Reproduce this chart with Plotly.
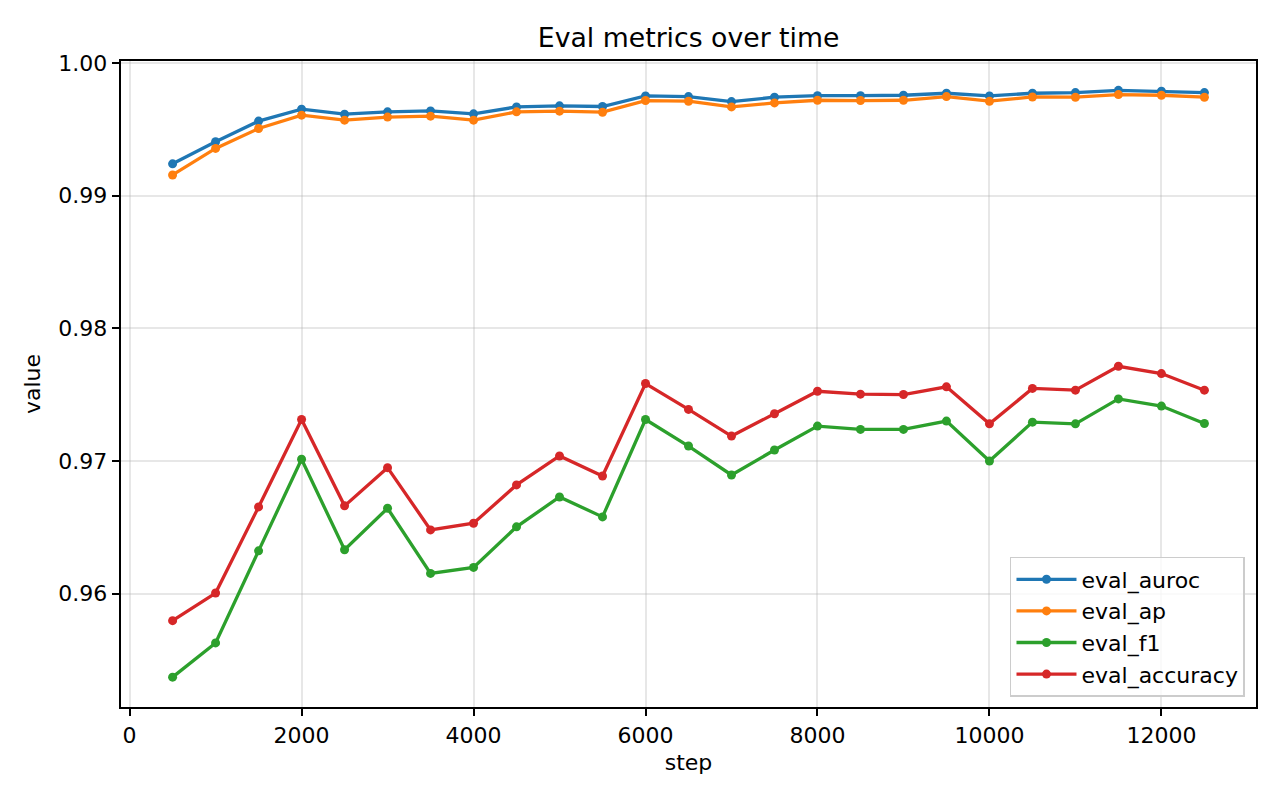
import plotly.graph_objects as go

# eval steps and metrics
steps = [500, 1000, 1500, 2000, 2500, 3000, 3500, 4000, 4500, 5000, 5500, 6000,
         6500, 7000, 7500, 8000, 8500, 9000, 9500, 10000, 10500, 11000, 11500, 12000, 12500]

eval_auroc = [0.99240, 0.99406, 0.99562, 0.99652, 0.99614, 0.99632, 0.99639, 0.99617,
              0.99669, 0.99677, 0.99672, 0.99752, 0.99747, 0.99709, 0.99742, 0.99754,
              0.99754, 0.99757, 0.99772, 0.99752, 0.99772, 0.99777, 0.99794, 0.99787, 0.99777]

eval_ap = [0.99156, 0.99356, 0.99506, 0.99607, 0.99569, 0.99592, 0.99599, 0.99569,
           0.99632, 0.99637, 0.99629, 0.99717, 0.99712, 0.99669, 0.99699, 0.99719,
           0.99717, 0.99719, 0.99747, 0.99712, 0.99744, 0.99742, 0.99762, 0.99757, 0.99742]

eval_f1 = [0.95371, 0.95629, 0.96323, 0.97013, 0.96331, 0.96644, 0.96153, 0.96198,
           0.96504, 0.96729, 0.96579, 0.97313, 0.97113, 0.96895, 0.97083, 0.97263,
           0.97238, 0.97238, 0.97301, 0.97000, 0.97293, 0.97280, 0.97468, 0.97414, 0.97283]

eval_accuracy = [0.95797, 0.96005, 0.96654, 0.97313, 0.96662, 0.96950, 0.96481, 0.96531,
                 0.96820, 0.97038, 0.96887, 0.97584, 0.97389, 0.97188, 0.97356, 0.97526,
                 0.97504, 0.97501, 0.97559, 0.97280, 0.97547, 0.97534, 0.97714, 0.97659, 0.97534]

series = [
    ("eval_auroc", eval_auroc, "#1f77b4"),
    ("eval_ap", eval_ap, "#ff7f0e"),
    ("eval_f1", eval_f1, "#2ca02c"),
    ("eval_accuracy", eval_accuracy, "#d62728"),
]

FONT = "DejaVu Sans"
FS = 22  # ~10pt at 160 dpi

fig = go.Figure()
for name, vals, color in series:
    fig.add_trace(go.Scatter(
        x=steps, y=vals, name=name, mode="lines+markers",
        line=dict(color=color, width=3.3),
        marker=dict(color=color, size=9),
    ))

axis_common = dict(
    showline=True, linecolor="black", linewidth=1.8, mirror=True,
    ticks="outside", ticklen=7.5, tickwidth=1.8, tickcolor="black",
    showgrid=True, gridcolor="rgba(176,176,176,0.3)", gridwidth=1.8,
    zeroline=False,
    tickfont=dict(family=FONT, size=FS, color="black"),
)

fig.update_xaxes(
    range=[-100, 13100], dtick=2000, tick0=0, tickformat="d",
    title=dict(text="step", font=dict(family=FONT, size=FS, color="black"), standoff=8),
    **axis_common,
)
fig.update_yaxes(
    range=[0.95146, 1.00015], dtick=0.01, tick0=0.96, tickformat=".2f",
    title=dict(text="value", font=dict(family=FONT, size=FS, color="black"), standoff=12),
    **axis_common,
)

fig.update_layout(
    width=1280, height=800,
    template="plotly_white",
    plot_bgcolor="white", paper_bgcolor="white",
    margin=dict(l=121, r=24, t=61, b=93),
    font=dict(family=FONT, size=FS, color="black"),
    title=dict(text="Eval metrics over time", x=0.538, xanchor="center",
               y=1 - 38 / 800, yanchor="middle",
               font=dict(family=FONT, size=26.7, color="black")),
    legend=dict(x=0.9903, y=0.0155, xanchor="right", yanchor="bottom",
                bgcolor="rgba(255,255,255,0.8)", bordercolor="#cccccc", borderwidth=1.5,
                font=dict(family=FONT, size=FS, color="black"),
                tracegroupgap=0, itemwidth=60),
    showlegend=True,
)

fig.write_html("out.html", config={"displayModeBar": False},
               post_script="document.body.style.margin='0';")
